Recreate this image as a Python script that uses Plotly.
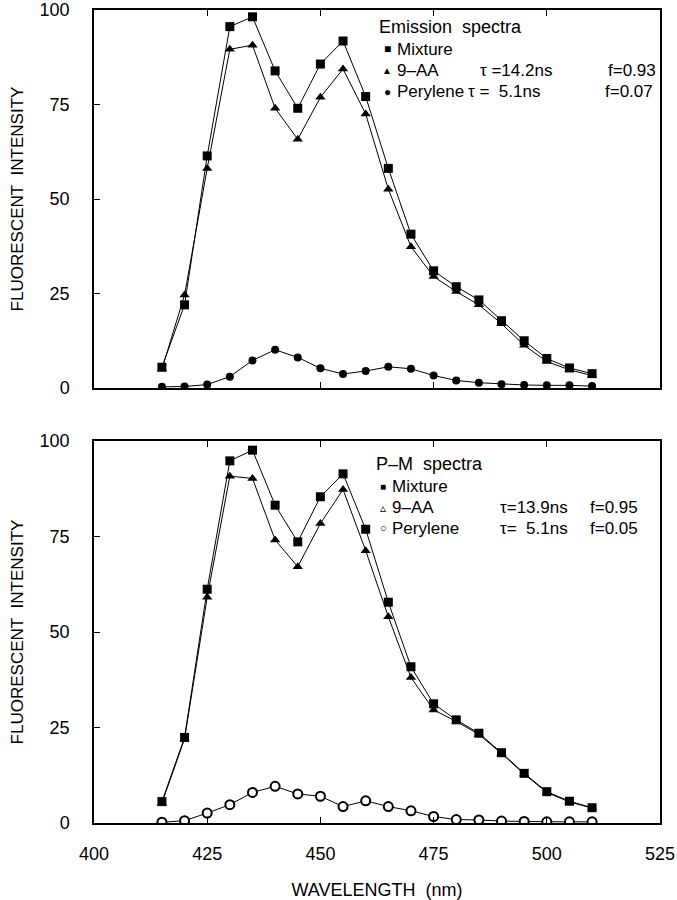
import plotly.graph_objects as go
from plotly.subplots import make_subplots

wavelength = [415, 420, 425, 430, 435, 440, 445, 450, 455, 460,
              465, 470, 475, 480, 485, 490, 495, 500, 505, 510]

# Top panel: emission spectra
em_mixture = [5.5, 22.0, 61.4, 95.6, 98.2, 83.9, 74.0, 85.7, 91.8, 77.1,
              58.1, 40.7, 31.0, 26.8, 23.3, 17.8, 12.5, 7.8, 5.3, 3.8]
em_9aa = [5.0, 24.6, 58.1, 89.6, 90.7, 74.0, 65.8, 76.9, 84.4, 72.5,
          52.6, 37.4, 29.5, 25.5, 22.0, 17.0, 11.3, 7.0, 4.8, 3.3]
em_perylene = [0.3, 0.4, 0.9, 3.0, 7.3, 10.1, 8.1, 5.2, 3.7, 4.5,
               5.6, 5.1, 3.3, 2.0, 1.4, 1.0, 0.8, 0.7, 0.7, 0.5]

# Bottom panel: phase-modulation resolved spectra
pm_mixture = [5.6, 22.4, 61.2, 94.8, 97.6, 83.2, 73.6, 85.4, 91.4, 76.9,
              57.8, 40.9, 31.2, 27.0, 23.5, 18.4, 13.0, 8.2, 5.7, 4.0]
pm_9aa = [5.2, 22.0, 59.1, 90.8, 90.2, 74.1, 67.1, 78.4, 87.3, 71.3,
          54.0, 38.1, 29.6, 26.6, 23.2, 18.2, 12.8, 8.0, 5.5, 3.9]
pm_perylene = [0.2, 0.6, 2.6, 4.8, 8.0, 9.6, 7.6, 7.0, 4.3, 5.8,
               4.3, 3.2, 1.7, 0.9, 0.8, 0.5, 0.4, 0.3, 0.3, 0.3]

x_ticks = [400, 425, 450, 475, 500, 525]
y_ticks = [0, 25, 50, 75, 100]

NB = "\u00a0"
top_legend = ["Emission" + NB * 2 + "spectra", "Mixture", "9–AA", "Perylene"]
top_tau = ["τ" + NB + "=14.2ns", "τ" + NB + "=" + NB * 2 + "5.1ns"]
top_f = ["f=0.93", "f=0.07"]
bot_legend = ["P–M" + NB * 2 + "spectra", "Mixture", "9–AA", "Perylene"]
bot_tau = ["τ=13.9ns", "τ=" + NB * 2 + "5.1ns"]
bot_f = ["f=0.95", "f=0.05"]

FONT = "Liberation Sans, Arial, sans-serif"

fig = make_subplots(rows=2, cols=1, shared_xaxes=True)

def add(row, y, symbol, fill="black", lw=0, size=8):
    fig.add_trace(go.Scatter(
        x=wavelength, y=y, mode="lines+markers",
        line=dict(color="black", width=1),
        marker=dict(symbol=symbol, size=size, color=fill,
                    line=dict(color="black", width=lw)),
        showlegend=False), row=row, col=1)

add(1, em_perylene, "circle", size=8)
add(1, em_9aa, "triangle-up", size=9)
add(1, em_mixture, "square", size=9)
add(2, pm_perylene, "circle", fill="white", lw=2, size=9)
add(2, pm_9aa, "triangle-up", size=9)
add(2, pm_mixture, "square", size=9)

W, H = 677, 900
X0, X1 = 94, 660        # screen x of plot left / right
Y0, Y1 = 10, 823        # screen y of plot top / bottom
ML, MT = X0, Y0
MR, MB = W - X1, H - Y1

def px(x):
    return (x - X0) / (X1 - X0)

def py(y):
    return (Y1 - y) / (Y1 - Y0)

axis_common = dict(showline=True, linecolor="black", linewidth=1.5,
                   ticks="inside", ticklen=6, tickcolor="black", tickwidth=1.2,
                   showgrid=False, zeroline=False, automargin=False,
                   ticklabeloverflow="allow",
                   tickfont=dict(family=FONT, size=18, color="black"))

fig.update_xaxes(range=[400, 525], tickvals=x_ticks, mirror="allticks",
                 **axis_common)
fig.update_xaxes(showticklabels=False, row=1, col=1)
fig.update_xaxes(title=dict(text="WAVELENGTH" + NB * 2 + "(nm)",
                            font=dict(family=FONT, size=18, color="black"),
                            standoff=20),
                 ticklabelstandoff=14, row=2, col=1)
fig.update_yaxes(range=[0, 100], tickvals=y_ticks, mirror=True,
                 ticklabelstandoff=19,
                 title=dict(text="FLUORESCENT" + NB * 2 + "INTENSITY",
                            font=dict(family=FONT, size=17, color="black"),
                            standoff=12),
                 **axis_common)

fig.layout.yaxis.domain = [py(388), 1.0]
fig.layout.yaxis2.domain = [0.0, py(441)]

ann = []
def txt(x, y, s, size=17, anchor="left"):
    ann.append(dict(x=px(x), y=py(y), xref="paper", yref="paper", text=s,
                    showarrow=False, xanchor=anchor, yanchor="middle",
                    font=dict(family=FONT, size=size, color="black")))

# Top legend
rows_top = [27, 49, 71, 92]
txt(377, rows_top[0], top_legend[0], size=18)
txt(387, rows_top[1], "■", size=12, anchor="center")
txt(387, rows_top[2], "▲", size=10, anchor="center")
txt(387, rows_top[3], "●", size=12, anchor="center")
txt(395, rows_top[1], top_legend[1])
txt(395, rows_top[2], top_legend[2])
txt(395, rows_top[3], top_legend[3])
txt(478, rows_top[2], top_tau[0])
txt(466, rows_top[3], top_tau[1])
txt(606, rows_top[2], top_f[0])
txt(603, rows_top[3], top_f[1])

# Bottom legend
rows_bot = [464, 486, 508, 528]
txt(374, rows_bot[0], bot_legend[0], size=18)
txt(383, rows_bot[1], "■", size=10, anchor="center")
txt(383, rows_bot[2], "▵", size=12, anchor="center")
txt(383, rows_bot[3], "○", size=11, anchor="center")
txt(390, rows_bot[1], bot_legend[1])
txt(390, rows_bot[2], bot_legend[2])
txt(390, rows_bot[3], bot_legend[3])
txt(498, rows_bot[2], bot_tau[0])
txt(498, rows_bot[3], bot_tau[1])
txt(588, rows_bot[2], bot_f[0])
txt(588, rows_bot[3], bot_f[1])

fig.update_layout(width=W, height=H,
                  margin=dict(l=ML, r=MR, t=MT, b=MB, autoexpand=False),
                  plot_bgcolor="white", paper_bgcolor="white",
                  annotations=ann, showlegend=False,
                  font=dict(family=FONT, color="black"))

# remove the default 8px page margin so the figure fills the window exactly
fig.write_html("out.html",
               config={"displayModeBar": False},
               post_script="document.body.style.margin='0';")
